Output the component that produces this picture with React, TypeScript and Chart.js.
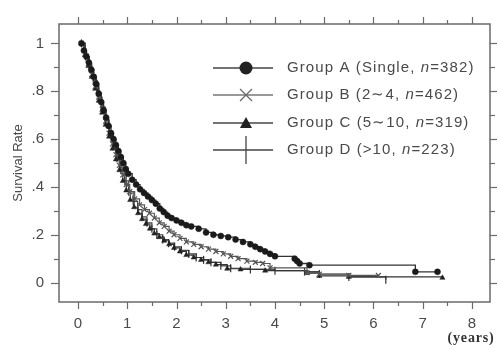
import { useEffect, useRef } from 'react';
import { Chart, registerables } from 'chart.js';

Chart.register(...registerables);

// ---- data ----
const timesA = [0.07,0.12,0.17,0.22,0.27,0.32,0.37,0.42,0.47,0.52,0.57,0.62,0.67,0.72,0.77,0.82,0.87,0.92,0.97,1.02,1.1,1.18,1.26,1.34,1.42,1.5,1.58,1.66,1.74,1.82,1.9,2.0,2.1,2.2,2.3,2.45,2.6,2.75,2.9,3.05,3.2,3.35,3.5,3.6,3.7,3.8,3.9,4.0,4.4,4.45,4.5,4.7,6.85,7.3];
const survA = [1.0,0.97,0.945,0.92,0.89,0.86,0.83,0.79,0.755,0.72,0.69,0.655,0.625,0.6,0.575,0.55,0.525,0.5,0.475,0.455,0.43,0.41,0.39,0.375,0.36,0.345,0.33,0.31,0.295,0.28,0.27,0.26,0.25,0.24,0.235,0.225,0.21,0.2,0.195,0.19,0.18,0.17,0.16,0.15,0.14,0.13,0.12,0.11,0.1,0.09,0.08,0.073,0.045,0.045];

const timesB = [0.07,0.14,0.21,0.28,0.35,0.42,0.49,0.56,0.63,0.7,0.77,0.84,0.91,0.98,1.05,1.15,1.25,1.35,1.45,1.55,1.65,1.75,1.85,1.95,2.07,2.2,2.35,2.5,2.65,2.8,2.95,3.1,3.25,3.43,3.6,3.75,3.9,4.65,4.9,5.5,6.1];
const survB = [1.0,0.955,0.915,0.87,0.82,0.775,0.725,0.675,0.625,0.58,0.535,0.49,0.45,0.41,0.38,0.35,0.325,0.305,0.29,0.27,0.25,0.235,0.215,0.2,0.185,0.17,0.16,0.15,0.14,0.13,0.12,0.11,0.1,0.09,0.085,0.08,0.062,0.042,0.035,0.03,0.03];

const timesC = [0.07,0.14,0.21,0.28,0.35,0.42,0.49,0.56,0.63,0.7,0.77,0.84,0.91,0.98,1.06,1.14,1.22,1.3,1.38,1.46,1.55,1.65,1.75,1.85,1.95,2.07,2.2,2.35,2.5,2.65,2.8,3.03,3.3,3.8,4.65,4.9,5.5,7.4];
const survC = [1.0,0.95,0.905,0.86,0.81,0.76,0.71,0.66,0.61,0.56,0.515,0.47,0.425,0.385,0.345,0.315,0.29,0.265,0.245,0.225,0.205,0.19,0.175,0.16,0.145,0.13,0.115,0.105,0.095,0.085,0.075,0.058,0.055,0.05,0.04,0.028,0.024,0.02];

const timesD = [0.07,0.15,0.23,0.31,0.39,0.47,0.55,0.63,0.71,0.79,0.87,0.95,1.03,1.12,1.21,1.3,1.4,1.5,1.6,1.72,1.84,1.96,2.1,2.25,2.4,2.55,2.7,2.9,3.1,3.5,4.0,4.6,4.9,5.5,6.25];
const survD = [1.0,0.945,0.895,0.845,0.79,0.735,0.68,0.625,0.57,0.52,0.47,0.425,0.38,0.34,0.305,0.275,0.25,0.225,0.2,0.18,0.165,0.15,0.135,0.12,0.105,0.095,0.085,0.07,0.06,0.055,0.05,0.046,0.036,0.024,0.012];

const groupNames = ['Group A (Single, ', 'Group B (2\u223C4, ', 'Group C (5\u223C10, ', 'Group D (>10, '];
const groupN = ['=382)', '=462)', '=319)', '=223)'];

const xTickValues = [0, 1, 2, 3, 4, 5, 6, 7, 8];
const yTickValues = [0, 0.2, 0.4, 0.6, 0.8, 1];
const yTickLabels = ['0', '.2', '.4', '.6', '.8', '1'];

const yTitle = 'Survival Rate';
const xUnit = '(years)';

const toPts = (t: number[], s: number[]) => t.map((x, i) => ({ x, y: s[i] }));

const TEXT = '#4a4a4a';
const FRAME = '#6a6a6a';

const framePlugin = {
  id: 'framePlugin',
  afterDatasetsDraw(chart: any) {
    const { ctx, chartArea: a, scales } = chart;
    const xs = scales.x;
    const ys = scales.y;
    ctx.save();
    ctx.strokeStyle = FRAME;
    ctx.lineWidth = 1.5;
    ctx.strokeRect(a.left, a.top, a.right - a.left, a.bottom - a.top);
    ctx.lineWidth = 1.2;
    const seg = (x1: number, y1: number, x2: number, y2: number) => {
      ctx.beginPath();
      ctx.moveTo(x1, y1);
      ctx.lineTo(x2, y2);
      ctx.stroke();
    };
    for (let i = 0; i <= 16; i++) {
      const v = i / 2;
      const px = Math.round(xs.getPixelForValue(v)) + 0.5;
      const L = i % 2 === 0 ? 7 : 4;
      seg(px, a.bottom, px, a.bottom + L);
      seg(px, a.top, px, a.top - L);
    }
    for (let i = 0; i <= 10; i++) {
      const v = i / 10;
      const py = Math.round(ys.getPixelForValue(v)) + 0.5;
      const L = i % 2 === 0 ? 8 : 5;
      seg(a.left, py, a.left - L, py);
      seg(a.right, py, a.right + (i % 2 === 0 ? 7 : 5), py);
    }
    ctx.restore();
  },
  afterDraw(chart: any) {
    const { ctx, chartArea: a } = chart;
    ctx.save();
    // y title
    ctx.fillStyle = TEXT;
    ctx.font = '13px "Liberation Sans", Arial, sans-serif';
    ctx.translate(18, (a.top + a.bottom) / 2);
    ctx.rotate(-Math.PI / 2);
    ctx.textAlign = 'center';
    ctx.textBaseline = 'middle';
    ctx.fillText(yTitle, 0, 0);
    ctx.restore();

    ctx.save();
    ctx.fillStyle = '#333';
    ctx.font = 'bold 14px "Liberation Serif", "DejaVu Serif", serif';
    (ctx as any).letterSpacing = '0.8px';
    ctx.textAlign = 'center';
    ctx.textBaseline = 'middle';
    ctx.fillText(xUnit, 471, 338);
    ctx.restore();

    // legend
    const rows = [68, 95, 123, 150];
    const lx1 = 213, lx2 = 273, mx = 246, tx = 287;
    ctx.save();
    rows.forEach((ry, i) => {
      ctx.strokeStyle = i === 1 ? '#777' : '#444';
      ctx.lineWidth = 1.3;
      ctx.beginPath();
      ctx.moveTo(lx1, ry);
      ctx.lineTo(lx2, ry);
      ctx.stroke();
      ctx.fillStyle = '#222';
      if (i === 0) {
        ctx.beginPath();
        ctx.arc(mx, ry, 6.5, 0, Math.PI * 2);
        ctx.fill();
      } else if (i === 1) {
        ctx.strokeStyle = '#666';
        ctx.lineWidth = 1.2;
        ctx.beginPath();
        ctx.moveTo(mx - 6, ry - 6); ctx.lineTo(mx + 6, ry + 6);
        ctx.moveTo(mx + 6, ry - 6); ctx.lineTo(mx - 6, ry + 6);
        ctx.stroke();
      } else if (i === 2) {
        ctx.beginPath();
        ctx.moveTo(mx, ry - 6);
        ctx.lineTo(mx + 6, ry + 5);
        ctx.lineTo(mx - 6, ry + 5);
        ctx.closePath();
        ctx.fill();
      } else {
        ctx.strokeStyle = '#444';
        ctx.lineWidth = 1.3;
        ctx.beginPath();
        ctx.moveTo(mx, ry - 14);
        ctx.lineTo(mx, ry + 14);
        ctx.stroke();
      }
      ctx.fillStyle = TEXT;
      ctx.textBaseline = 'middle';
      ctx.textAlign = 'left';
      (ctx as any).letterSpacing = '1.1px';
      ctx.font = '15px "Liberation Sans", Arial, sans-serif';
      let x = tx;
      ctx.fillText(groupNames[i], x, ry);
      x += ctx.measureText(groupNames[i]).width;
      ctx.font = 'italic 15px "Liberation Sans", Arial, sans-serif';
      ctx.fillText('n', x, ry);
      x += ctx.measureText('n').width;
      ctx.font = '15px "Liberation Sans", Arial, sans-serif';
      ctx.fillText(groupN[i], x, ry);
    });
    ctx.restore();
  },
};

export default function App() {
  const ref = useRef<HTMLCanvasElement | null>(null);
  useEffect(() => {
    document.body.style.margin = '0';
    const canvas = ref.current!;
    const chart = new Chart(canvas, {
      type: 'line',
      data: {
        datasets: [
          {
            label: 'Group A',
            data: toPts(timesA, survA),
            stepped: 'before',
            borderColor: '#333',
            borderWidth: 1.3,
            pointStyle: 'circle',
            pointRadius: 3,
            pointBackgroundColor: '#1a1a1a',
            pointBorderColor: '#1a1a1a',
            pointBorderWidth: 0.5,
          },
          {
            label: 'Group B',
            data: toPts(timesB, survB),
            stepped: 'before',
            borderColor: '#555',
            borderWidth: 1.2,
            pointStyle: 'crossRot',
            pointRadius: 3.5,
            pointBorderColor: '#555',
            pointBorderWidth: 1.2,
          },
          {
            label: 'Group C',
            data: toPts(timesC, survC),
            stepped: 'before',
            borderColor: '#333',
            borderWidth: 1.2,
            pointStyle: 'triangle',
            pointRadius: 3,
            pointBackgroundColor: '#222',
            pointBorderColor: '#222',
            pointBorderWidth: 0.5,
          },
          {
            label: 'Group D',
            data: toPts(timesD, survD),
            stepped: 'before',
            borderColor: '#444',
            borderWidth: 1.2,
            pointStyle: 'line',
            pointRotation: 90,
            pointRadius: 4,
            pointBorderColor: '#333',
            pointBorderWidth: 1.2,
          },
        ],
      },
      options: {
        responsive: false,
        animation: false,
        devicePixelRatio: 1,
        layout: { padding: { top: 15, right: 8, left: 0, bottom: 0 } },
        plugins: { legend: { display: false }, tooltip: { enabled: false } },
        scales: {
          x: {
            type: 'linear',
            min: -0.386,
            max: 8.366,
            grid: { display: false, drawTicks: false },
            border: { display: false },
            afterBuildTicks: (s: any) => {
              s.ticks = xTickValues.map((v) => ({ value: v }));
            },
            afterFit: (s: any) => {
              s.height = 43;
            },
            ticks: {
              color: TEXT,
              font: { family: '"Liberation Sans", Arial, sans-serif', size: 15 },
              padding: 13,
              maxRotation: 0,
              autoSkip: false,
              callback: (v: any) => String(v),
            },
          },
          y: {
            type: 'linear',
            min: -0.081,
            max: 1.081,
            grid: { display: false, drawTicks: false },
            border: { display: false },
            afterBuildTicks: (s: any) => {
              s.ticks = yTickValues.map((v) => ({ value: v }));
            },
            afterFit: (s: any) => {
              s.width = 59;
            },
            ticks: {
              color: TEXT,
              font: { family: '"Liberation Sans", Arial, sans-serif', size: 15 },
              padding: 15,
              autoSkip: false,
              callback: (_v: any, i: number) => yTickLabels[i],
            },
          },
        },
      },
      plugins: [framePlugin],
    } as any);
    return () => chart.destroy();
  }, []);
  return (
    <div style={{ position: 'fixed', left: 0, top: 0, width: 498, height: 345, background: '#fff' }}>
      <canvas ref={ref} width={498} height={345} style={{ width: 498, height: 345 }} />
    </div>
  );
}
